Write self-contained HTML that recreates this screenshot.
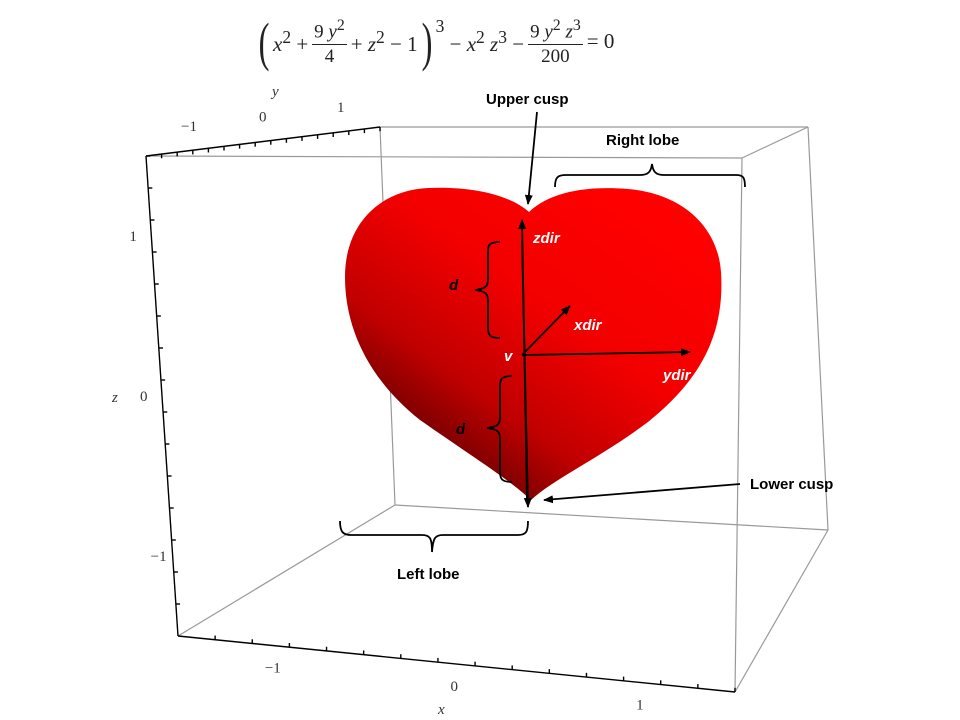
<!DOCTYPE html>
<html><head><meta charset="utf-8"><style>
body{margin:0;background:#fff;width:960px;height:720px;overflow:hidden;position:relative;font-family:"Liberation Serif",serif}
#eq{position:absolute;left:255px;top:14px;font-size:21px;display:flex;align-items:center;white-space:nowrap;color:#222}
#eq i{font-style:italic}
.fr{display:inline-flex;flex-direction:column;align-items:center;margin:0 4px;font-size:19px;line-height:24px}
.fr .n{border-bottom:1px solid #222;padding:0 2px}
.par{font-size:54px;font-weight:100;transform:scaleX(0.6);display:inline-block;line-height:54px}
</style></head><body>
<div id="eq">
<span class="par">(</span><span><i>x</i><sup>2</sup> + </span><span class="fr"><span class="n">9 <i>y</i><sup>2</sup></span><span>4</span></span><span> + <i>z</i><sup>2</sup> − 1</span><span class="par">)</span><sup style="align-self:flex-start;margin-top:2px">3</sup><span>&nbsp;− <i>x</i><sup>2</sup> <i>z</i><sup>3</sup> − </span><span class="fr"><span class="n">9 <i>y</i><sup>2</sup> <i>z</i><sup>3</sup></span><span>200</span></span><span>= 0</span>
</div>
<svg id="chart" width="960" height="720" style="position:absolute;left:0;top:0">
<defs>
<linearGradient id="hg" x1="0.85" y1="0.1" x2="0.15" y2="0.9">
<stop offset="0" stop-color="#ff0000"/><stop offset="0.4" stop-color="#f20000"/><stop offset="0.7" stop-color="#c00000"/><stop offset="1" stop-color="#4a0000"/>
</linearGradient>
<marker id="ah" markerWidth="10" markerHeight="8" refX="9" refY="4" orient="auto" markerUnits="userSpaceOnUse"><path d="M0,0 L10,4 L0,8 Z" fill="#000"/></marker>
</defs>
<g id="box" stroke="#999" stroke-width="1.2" fill="none">
<line x1="380" y1="127" x2="808" y2="127"/>
<line x1="146" y1="156" x2="742" y2="158"/>
<line x1="742" y1="158" x2="808" y2="127"/>
<line x1="380" y1="127" x2="395" y2="505"/>
<line x1="808" y1="127" x2="828" y2="530"/>
<line x1="742" y1="158" x2="735" y2="692"/>
<line x1="395" y1="505" x2="828" y2="530"/>
<line x1="178" y1="636" x2="395" y2="505"/>
<line x1="828" y1="530" x2="735" y2="692"/>
</g>
<path fill="url(#hg)" d="M529,212 C552,190 592,186 628,189 C684,194 718,228 721,272 C725,335 700,380 648,422 C600,458 555,478 531,500 C510,480 470,455 420,420 C372,382 345,332 345,277 C345,222 382,190 428,188 C472,186 510,195 529,212 Z"/>
<g id="axes" stroke="#000" stroke-width="1.4" fill="none"></g>
<g id="labels" font-family="Liberation Serif,serif" font-size="15" fill="#333"></g>
<g stroke="#000" stroke-width="1.8" fill="none">
<line x1="537" y1="112" x2="528" y2="204" marker-end="url(#ah)"/>
<line x1="527" y1="500" x2="522" y2="220" marker-end="url(#ah)"/>
<line x1="522" y1="240" x2="528" y2="507" marker-end="url(#ah)"/>
<line x1="522" y1="355" x2="570" y2="306" marker-end="url(#ah)"/>
<line x1="522" y1="355" x2="690" y2="352" marker-end="url(#ah)"/>
<line x1="740" y1="484" x2="544" y2="500" marker-end="url(#ah)"/>
<path d="M500,242 C488,242 488,246 488,252 L488,280 C488,287 484,289 475,290 C484,291 488,293 488,300 L488,328 C488,335 490,338 500,338"/>
<path d="M512,376 C501,376 500,380 500,386 L500,418 C500,425 496,427 487,428 C496,429 500,431 500,438 L500,472 C500,479 502,482 512,482"/>
<path d="M555,187 C555,177 558,175 566,175 L640,175 C648,175 651,172 652,164 C653,172 656,175 664,175 L736,175 C743,175 745,177 745,187"/>
<path d="M340,521 C340,532 343,535 351,535 L422,535 C430,535 432,538 432,552 C433,538 435,535 443,535 L518,535 C526,535 528,532 528,521"/>
</g>
<g font-family="Liberation Sans,sans-serif" font-weight="bold" font-size="15">
<text x="486" y="104">Upper cusp</text>
<text x="606" y="145">Right lobe</text>
<text x="750" y="489">Lower cusp</text>
<text x="397" y="579">Left lobe</text>
<g font-style="italic">
<text x="449" y="290">d</text>
<text x="456" y="434">d</text>
<g fill="#fff">
<text x="533" y="243">zdir</text>
<text x="574" y="330">xdir</text>
<text x="504" y="361">v</text>
<text x="663" y="380">ydir</text>
</g></g></g>
</svg>
<script>
const yTicks=[-1,0,1];
const zTicks=[1,0,-1];
const xTicks=[-1,0,1];
const axisRange=[-1.5,1.5];
const NS="http://www.w3.org/2000/svg";
const axesG=document.getElementById('axes');
const labG=document.getElementById('labels');
function lerp(a,b,t){return [a[0]+(b[0]-a[0])*t,a[1]+(b[1]-a[1])*t];}
function tOf(v){return (v-axisRange[0])/(axisRange[1]-axisRange[0]);}
const axes=[
 {name:'y',a:[146,156],b:[380,127],ticks:yTicks,tick:[0,7],lab:[-4,-20],title:[272,96]},
 {name:'z',a:[178,636],b:[146,156],ticks:zTicks,tick:[7,0],lab:[-22,5],title:[112,402]},
 {name:'x',a:[178,636],b:[735,692],ticks:xTicks,tick:[0,-7],lab:[-6,27],title:[438,714]}
];
axes.forEach(ax=>{
 const l=document.createElementNS(NS,'line');
 l.setAttribute('x1',ax.a[0]);l.setAttribute('y1',ax.a[1]);l.setAttribute('x2',ax.b[0]);l.setAttribute('y2',ax.b[1]);
 
 
 axesG.appendChild(l);
 for(let v=axisRange[0]+0.2;v<axisRange[1];v+=0.2){
  const p=lerp(ax.a,ax.b,tOf(v));
  const major=Math.abs(v-Math.round(v))<0.01;
  const k=major?1:0.6;
  const t=document.createElementNS(NS,'line');
  t.setAttribute('x1',p[0]);t.setAttribute('y1',p[1]);t.setAttribute('x2',p[0]+ax.tick[0]*k);t.setAttribute('y2',p[1]+ax.tick[1]*k);
  
  
  axesG.appendChild(t);
 }
 ax.ticks.forEach(v=>{
  const p=lerp(ax.a,ax.b,tOf(v));
  const tx=document.createElementNS(NS,'text');
  tx.setAttribute('x',p[0]+ax.lab[0]);tx.setAttribute('y',p[1]+ax.lab[1]);
  tx.textContent=v<0?'−'+Math.abs(v):String(v);
  
  
  labG.appendChild(tx);
 });
 const ti=document.createElementNS(NS,'text');
 ti.setAttribute('x',ax.title[0]);ti.setAttribute('y',ax.title[1]);ti.setAttribute('font-style','italic');
 ti.textContent=ax.name;
 
 
 labG.appendChild(ti);
});
</script>
</body></html>
